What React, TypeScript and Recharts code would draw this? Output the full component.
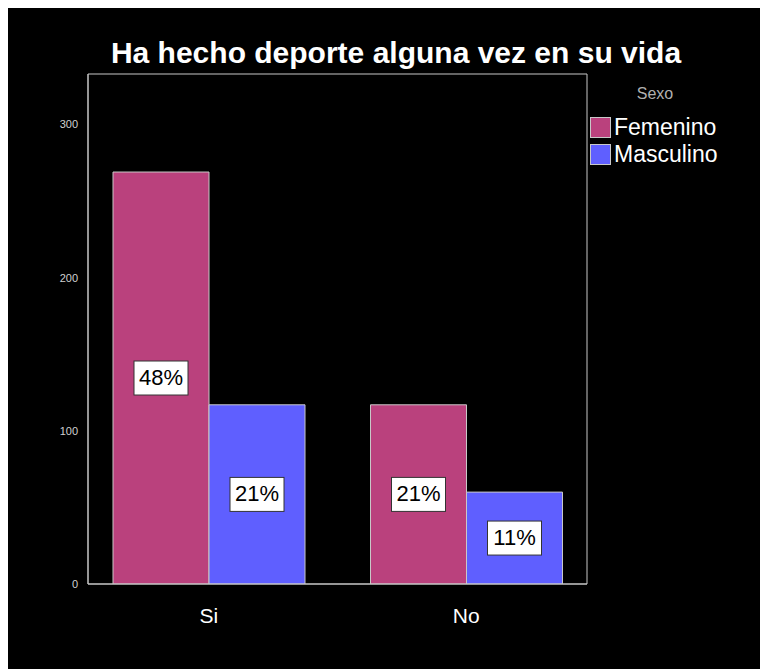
import React from 'react'
import { BarChart, Bar, XAxis, YAxis, Legend, LabelList, CartesianGrid } from 'recharts'

// values
const categories = ['Si', 'No']
const femenino = [269, 117]
const masculino = [117, 60]
const femeninoPct = ['48%', '21%']
const masculinoPct = ['21%', '11%']
const yTicks = [0, 100, 200, 300]

const data = categories.map((name, i) => ({
  name,
  Femenino: femenino[i],
  Masculino: masculino[i],
  femPct: femeninoPct[i],
  masPct: masculinoPct[i],
}))

const FONT = '"Liberation Sans", Arial, sans-serif'
const PINK = '#BA417D'
const BLUE = '#5F5FFF'
const BORDER = '#c8c8c8'

// white box with the percent in the middle of the bar
const PctLabel = (props: any) => {
  const { x, y, width, height, value } = props
  const cx = x + width / 2
  const cy = y + height / 2
  const w = 54
  const h = 34
  return (
    <g>
      <rect x={cx - w / 2} y={cy - h / 2} width={w} height={h} fill="#fff" stroke="#333" strokeWidth={1} />
      <text x={cx} y={cy + 1} textAnchor="middle" dominantBaseline="middle" fontSize={22} fontFamily={FONT} fill="#000">
        {value}
      </text>
    </g>
  )
}

const LegendBox = () => (
  <div style={{ fontFamily: FONT, color: '#fff' }}>
    <div style={{ fontSize: 16, color: '#b0b0b0', textAlign: 'center', width: 130, marginBottom: 11 }}>Sexo</div>
    {[['Femenino', PINK], ['Masculino', BLUE]].map(([label, color]) => (
      <div key={label} style={{ display: 'flex', alignItems: 'center', height: 27 }}>
        <span style={{ width: 19, height: 19, background: color, border: `1px solid ${BORDER}`, marginRight: 3 }} />
        <span style={{ fontSize: 23 }}>{label}</span>
      </div>
    ))}
  </div>
)

// frame round the plot area, from the offsets recharts hands over
const frameH = ({ offset }: any) => [offset.top, offset.top + offset.height]
const frameV = ({ offset }: any) => [offset.left, offset.left + offset.width]

export default function App() {
  return (
    <div style={{ position: 'relative', width: 760, height: 661, background: '#000' }}>
      <div
        style={{
          position: 'absolute',
          top: 28,
          left: 0,
          width: 776,
          textAlign: 'center',
          color: '#fff',
          fontFamily: FONT,
          fontWeight: 'bold',
          fontSize: 30,
          lineHeight: '34px',
        }}
      >
        Ha hecho deporte alguna vez en su vida
      </div>
      <BarChart
        width={760}
        height={661}
        data={data}
        margin={{ top: 66, right: 181, left: 20, bottom: 45 }}
        barCategoryGap={33}
        barGap={0}
      >
        <CartesianGrid
          stroke={BORDER}
          horizontalCoordinatesGenerator={frameH}
          verticalCoordinatesGenerator={frameV}
        />
        <XAxis
          dataKey="name"
          padding={{ left: -8, right: -8 }}
          axisLine={{ stroke: BORDER }}
          tickLine={false}
          tickMargin={18}
          tick={{ fill: '#fff', fontSize: 21, fontFamily: FONT }}
          height={40}
        />
        <YAxis
          domain={[0, 333]}
          ticks={yTicks}
          allowDataOverflow
          axisLine={{ stroke: BORDER }}
          tickLine={false}
          tickMargin={4}
          tick={{ fill: '#d0d0d0', fontSize: 11, fontFamily: FONT }}
          width={60}
        />
        <Legend
          verticalAlign="middle"
          align="center"
          layout="vertical"
          content={<LegendBox />}
          wrapperStyle={{ position: 'absolute', left: 582, top: 77, width: 170 }}
        />
        <Bar dataKey="Femenino" fill={PINK} stroke={BORDER} strokeWidth={1} isAnimationActive={false}>
          <LabelList dataKey="femPct" content={<PctLabel />} />
        </Bar>
        <Bar dataKey="Masculino" fill={BLUE} stroke={BORDER} strokeWidth={1} isAnimationActive={false}>
          <LabelList dataKey="masPct" content={<PctLabel />} />
        </Bar>
      </BarChart>
    </div>
  )
}
